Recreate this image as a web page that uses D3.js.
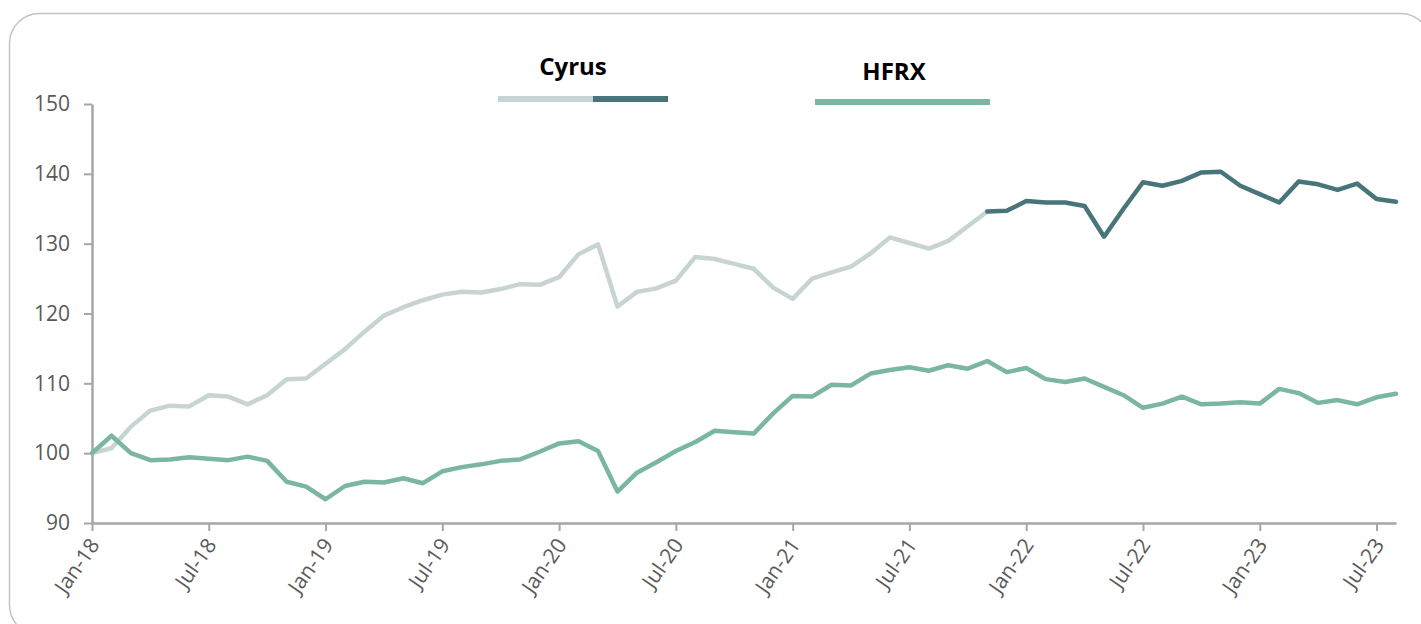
<!DOCTYPE html>
<html>
<head>
<meta charset="utf-8">
<script src="https://cdn.jsdelivr.net/npm/d3@7"></script>
<style>
  body { margin: 0; background: #fff; overflow: hidden; }
  svg { display: block; }
</style>
</head>
<body>
<svg id="chart"></svg>
<script>
// monthly index values, Jan-18 .. Aug-23
const months = d3.timeMonth.range(new Date(2018, 0, 1), new Date(2023, 8, 1));
const cyrus = [
  100.0, 100.7, 103.8, 106.1, 106.8, 106.7, 108.3, 108.1, 107.0, 108.3, 110.6, 110.7,
  112.8, 114.9, 117.4, 119.7, 120.9, 121.9, 122.7, 123.1, 123.0, 123.5, 124.2, 124.1,
  125.2, 128.5, 129.9, 121.0, 123.1, 123.6, 124.7, 128.1, 127.8, 127.1, 126.4, 123.7,
  122.1, 125.0, 125.9, 126.7, 128.6, 130.9, 130.1, 129.3, 130.4, 132.5, 134.6, 134.7,
  136.1, 135.9, 135.9, 135.4, 131.0, 135.0, 138.8, 138.3, 139.0, 140.2, 140.3, 138.3,
  137.1, 135.9, 138.9, 138.5, 137.7, 138.6, 136.4, 136.0
];
const hfrx = [
  100.0, 102.5, 100.0, 99.0, 99.1, 99.4, 99.2, 99.0, 99.5, 98.9, 95.9, 95.2,
  93.4, 95.3, 95.9, 95.8, 96.4, 95.7, 97.4, 98.0, 98.4, 98.9, 99.1, 100.2,
  101.4, 101.7, 100.3, 94.5, 97.2, 98.7, 100.3, 101.6, 103.2, 103.0, 102.8, 105.7,
  108.2, 108.1, 109.8, 109.7, 111.4, 111.9, 112.3, 111.8, 112.6, 112.1, 113.2, 111.6,
  112.2, 110.6, 110.2, 110.7, 109.5, 108.3, 106.5, 107.1, 108.1, 107.0, 107.1, 107.3,
  107.1, 109.2, 108.6, 107.2, 107.6, 107.0, 108.0, 108.5
];
const splitIndex = 46; // Cyrus switches colour here
const yTicks = [90, 100, 110, 120, 130, 140, 150];
const seriesNames = ["Cyrus", "HFRX"];

const W = 1421, H = 624;
const colLight = "#c8d4d4", colDark = "#477579", colHfrx = "#7ab6a0";
const axisCol = "#a6a6a6", labelCol = "#595959";

const svg = d3.select("#chart").attr("width", W).attr("height", H)
  .style("font-family", "'Open Sans', sans-serif");

// frame (runs off the right and bottom edges like the original)
svg.append("rect")
  .attr("x", 9.5).attr("y", 13.5).attr("width", 1421).attr("height", 621.5)
  .attr("rx", 30).attr("fill", "#fff")
  .attr("stroke", "#c4c4c4").attr("stroke-width", 1.5);

const x = d3.scaleLinear().domain([0, months.length - 1]).range([92, 1396]);
const y = d3.scaleLinear().domain([90, 150]).range([523, 104]);

const fmt = d3.timeFormat("%b-%y");

// y axis
const yAxis = svg.append("g")
  .attr("transform", "translate(92,0)")
  .call(d3.axisLeft(y).tickValues(yTicks).tickSize(8).tickSizeOuter(0).tickPadding(14));
yAxis.select(".domain").attr("stroke", axisCol).attr("stroke-width", 2.5);
yAxis.selectAll(".tick line").attr("stroke", axisCol).attr("stroke-width", 2);
yAxis.selectAll("text").attr("fill", labelCol).style("font-size", "21px")
  .style("font-family", "'Open Sans', sans-serif");

// x axis
const xTicks = d3.range(0, months.length, 6);
const xAxis = svg.append("g")
  .attr("transform", "translate(0,523)")
  .call(d3.axisBottom(x).tickValues(xTicks).tickFormat(i => fmt(months[i]))
    .tickSize(8).tickSizeOuter(0));
xAxis.select(".domain").attr("stroke", axisCol).attr("stroke-width", 2.5);
xAxis.selectAll(".tick line").attr("stroke", axisCol).attr("stroke-width", 2);
xAxis.selectAll("text")
  .attr("fill", labelCol).style("font-size", "21px")
  .style("font-family", "'Open Sans', sans-serif")
  .attr("text-anchor", "end")
  .attr("dy", null).attr("y", null)
  .attr("transform", "translate(8,22) rotate(-55)");

// lines
const line = d3.line().x(d => x(d.i)).y(d => y(d.v));
const toPts = arr => arr.map((v, i) => ({ i, v }));
const cyrusPts = toPts(cyrus);

const g = svg.append("g")
  .attr("fill", "none")
  .attr("stroke-width", 4.5)
  .attr("stroke-linejoin", "round")
  .attr("stroke-linecap", "round");

g.append("path").datum(cyrusPts.slice(0, splitIndex + 1))
  .attr("stroke", colLight).attr("d", line);
g.append("path").datum(cyrusPts.slice(splitIndex))
  .attr("stroke", colDark).attr("d", line);
g.append("path").datum(toPts(hfrx))
  .attr("stroke", colHfrx).attr("d", line);

// legend
const legend = svg.append("g");
legend.append("text").attr("x", 573).attr("y", 75).attr("text-anchor", "middle")
  .style("font-size", "24px").style("font-weight", "bold").attr("fill", "#000")
  .text(seriesNames[0]);
legend.append("line").attr("x1", 498).attr("x2", 593).attr("y1", 99).attr("y2", 99)
  .attr("stroke", colLight).attr("stroke-width", 6);
legend.append("line").attr("x1", 593).attr("x2", 668).attr("y1", 99).attr("y2", 99)
  .attr("stroke", colDark).attr("stroke-width", 6);

legend.append("text").attr("x", 894).attr("y", 80).attr("text-anchor", "middle")
  .style("font-size", "24px").style("font-weight", "bold").attr("fill", "#000")
  .text(seriesNames[1]);
legend.append("line").attr("x1", 815).attr("x2", 990).attr("y1", 102).attr("y2", 102)
  .attr("stroke", colHfrx).attr("stroke-width", 6);
</script>
</body>
</html>
